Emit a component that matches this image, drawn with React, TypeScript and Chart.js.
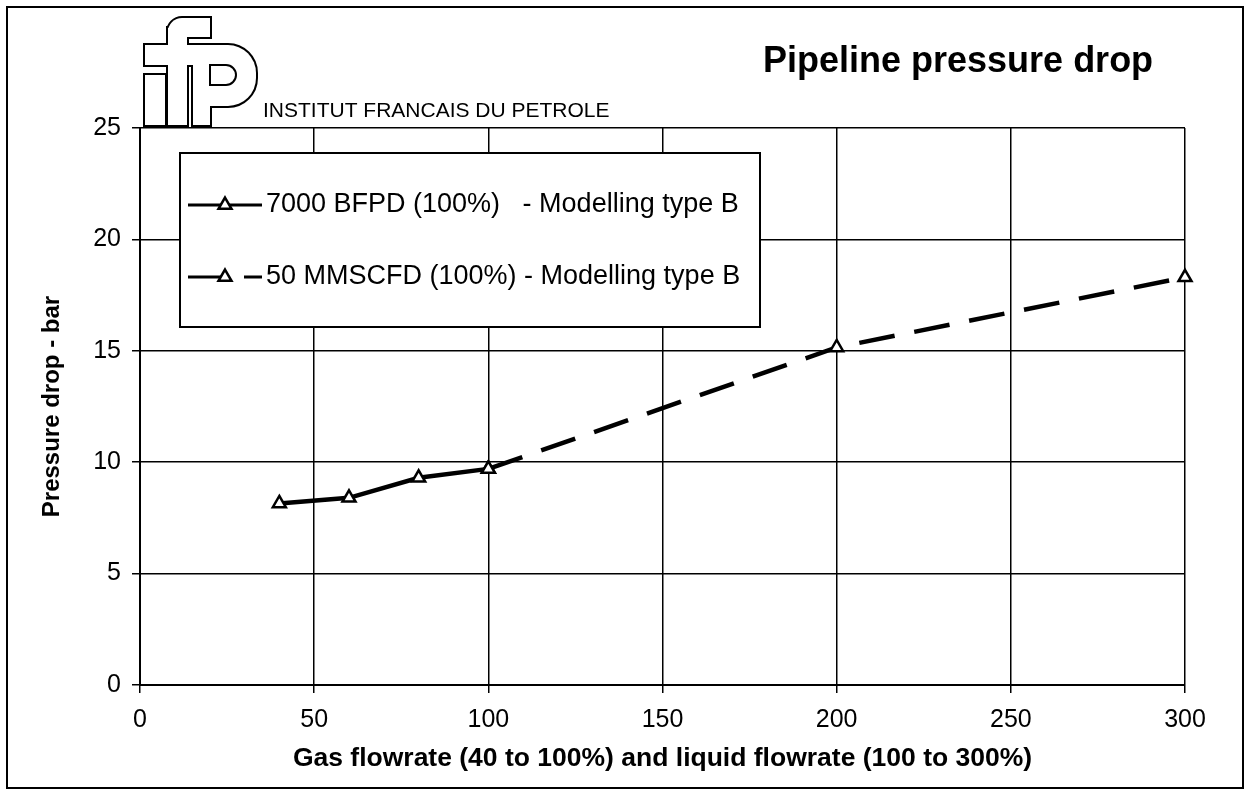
import React, { useEffect, useRef } from "react";
import { Chart, registerables } from "chart.js";

Chart.register(...registerables);

// ---------- data ----------
const chartTitle = "Pipeline pressure drop";
const instituteName = "INSTITUT FRANCAIS DU PETROLE";
const xAxisTitle = "Gas flowrate (40 to 100%) and liquid flowrate (100 to 300%)";
const yAxisTitle = "Pressure drop - bar";

const gasFlowrate = [40, 60, 80, 100];
const dropBfpd = [8.15, 8.4, 9.3, 9.7];

const liquidFlowrate = [100, 200, 300];
const dropMmscfd = [9.7, 15.15, 18.3];

const seriesLabels = [
  "7000 BFPD (100%)   - Modelling type B",
  "50 MMSCFD (100%) - Modelling type B",
];

const xMin = 0;
const xMax = 300;
const xStep = 50;
const yMin = 0;
const yMax = 25;
const yStep = 5;

// ---------- styling ----------
const FONT = '"Liberation Sans", Arial, Helvetica, sans-serif';
const W = 1245;
const H = 798;

function triangle(ctx: CanvasRenderingContext2D, x: number, y: number, r: number) {
  ctx.beginPath();
  for (let i = 0; i < 3; i++) {
    const a = -Math.PI / 2 + (i * 2 * Math.PI) / 3;
    const px = x + Math.cos(a) * r;
    const py = y + Math.sin(a) * r;
    if (i === 0) ctx.moveTo(px, py);
    else ctx.lineTo(px, py);
  }
  ctx.closePath();
}

const decorPlugin = {
  id: "decor",
  beforeDraw(chart: any) {
    const ctx: CanvasRenderingContext2D = chart.ctx;
    ctx.save();
    ctx.fillStyle = "#fff";
    ctx.fillRect(0, 0, chart.width, chart.height);
    // outer frame
    ctx.strokeStyle = "#000";
    ctx.lineWidth = 2;
    ctx.strokeRect(7, 7, 1236, 781);

    // ifp logo (outlined union of shapes)
    const shapes: Array<(c: CanvasRenderingContext2D) => void> = [
      (c) => c.rect(145, 75, 20, 50),
      (c) => (c as any).roundRect(168, 18, 42, 19, [14, 0, 0, 0]),
      (c) => c.rect(168, 28, 19, 97),
      (c) => c.rect(145, 45, 60, 20),
      (c) => (c as any).roundRect(193, 45, 63, 61, [0, 28, 28, 0]),
      (c) => c.rect(193, 45, 17, 80),
    ];
    ctx.lineWidth = 4;
    ctx.strokeStyle = "#000";
    shapes.forEach((s) => {
      ctx.beginPath();
      s(ctx);
      ctx.stroke();
    });
    ctx.fillStyle = "#fff";
    shapes.forEach((s) => {
      ctx.beginPath();
      s(ctx);
      ctx.fill();
    });
    ctx.lineWidth = 2;
    ctx.beginPath();
    (ctx as any).roundRect(210, 65, 26, 20, [0, 10, 10, 0]);
    ctx.fill();
    ctx.stroke();

    // institute name
    ctx.fillStyle = "#000";
    ctx.font = `21px ${FONT}`;
    ctx.textBaseline = "alphabetic";
    ctx.textAlign = "left";
    ctx.fillText(instituteName, 263, 117);

    // chart title
    ctx.font = `bold 36px ${FONT}`;
    ctx.fillText(chartTitle, 763, 72);
    ctx.restore();
  },
  afterDraw(chart: any) {
    const ctx: CanvasRenderingContext2D = chart.ctx;
    ctx.save();
    const bx = 180, by = 153, bw = 580, bh = 174;
    ctx.fillStyle = "#fff";
    ctx.fillRect(bx, by, bw, bh);
    ctx.strokeStyle = "#000";
    ctx.lineWidth = 2;
    ctx.strokeRect(bx, by, bw, bh);
    const rows = [205, 277];
    chart.data.datasets.forEach((ds: any, i: number) => {
      const y = rows[i];
      ctx.strokeStyle = ds.borderColor;
      ctx.lineWidth = 3;
      ctx.setLineDash(ds.borderDash || []);
      ctx.beginPath();
      ctx.moveTo(188, y);
      ctx.lineTo(262, y);
      ctx.stroke();
      ctx.setLineDash([]);
      triangle(ctx, 225, y, ds.pointRadius);
      ctx.fillStyle = ds.pointBackgroundColor;
      ctx.fill();
      ctx.lineWidth = ds.pointBorderWidth;
      ctx.strokeStyle = ds.pointBorderColor;
      ctx.stroke();
      ctx.fillStyle = "#000";
      ctx.font = `27px ${FONT}`;
      ctx.textBaseline = "middle";
      ctx.textAlign = "left";
      ctx.fillText(ds.label, 266, y);
    });
    ctx.restore();
  },
};

export default function App() {
  const ref = useRef<HTMLCanvasElement | null>(null);

  useEffect(() => {
    if (!ref.current) return;
    const toPoints = (xs: number[], ys: number[]) => xs.map((x, i) => ({ x, y: ys[i] }));
    const common = {
      borderColor: "#000",
      borderWidth: 4.5,
      pointStyle: "triangle",
      pointRadius: 7.5,
      pointBackgroundColor: "#fff",
      pointBorderColor: "#000",
      pointBorderWidth: 2.5,
      tension: 0,
      fill: false,
      clip: false,
    };
    const chart = new Chart(ref.current, {
      type: "line",
      data: {
        datasets: [
          { ...common, label: seriesLabels[0], data: toPoints(gasFlowrate, dropBfpd) },
          {
            ...common,
            label: seriesLabels[1],
            data: toPoints(liquidFlowrate, dropMmscfd),
            borderDash: [36, 20],
          },
        ],
      } as any,
      options: {
        animation: false,
        responsive: false,
        devicePixelRatio: 1,
        layout: { padding: { left: 0, top: 128, right: 60, bottom: 0 } },
        plugins: {
          legend: { display: false },
          tooltip: { enabled: false },
          title: { display: false },
        },
        scales: {
          x: {
            type: "linear",
            min: xMin,
            max: xMax,
            afterFit: (s: any) => {
              s.height = H - 685;
            },
            ticks: {
              stepSize: xStep,
              color: "#000",
              font: { family: FONT, size: 25 },
              padding: 12,
              maxRotation: 0,
            },
            grid: { color: "#000", lineWidth: 1.5, tickLength: 8, drawTicks: true },
            border: { color: "#000", width: 2 },
            title: {
              display: true,
              text: xAxisTitle,
              color: "#000",
              font: { family: FONT, size: 26.5, weight: "bold" },
              padding: { top: 0, bottom: 23 },
            },
          },
          y: {
            type: "linear",
            min: yMin,
            max: yMax,
            afterFit: (s: any) => {
              s.width = 140;
            },
            ticks: {
              stepSize: yStep,
              color: "#000",
              font: { family: FONT, size: 25 },
              padding: 11,
            },
            grid: { color: "#000", lineWidth: 1.5, tickLength: 8, drawTicks: true },
            border: { color: "#000", width: 2 },
            title: {
              display: true,
              text: yAxisTitle,
              color: "#000",
              font: { family: FONT, size: 24, weight: "bold" },
              padding: { top: 38, bottom: 0 },
            },
          },
        },
      } as any,
      plugins: [decorPlugin],
    });
    return () => chart.destroy();
  }, []);

  return (
    <div style={{ position: "fixed", left: 0, top: 0, width: W, height: H, background: "#fff" }}>
      <canvas ref={ref} width={W} height={H} style={{ display: "block", width: W, height: H }} />
    </div>
  );
}
